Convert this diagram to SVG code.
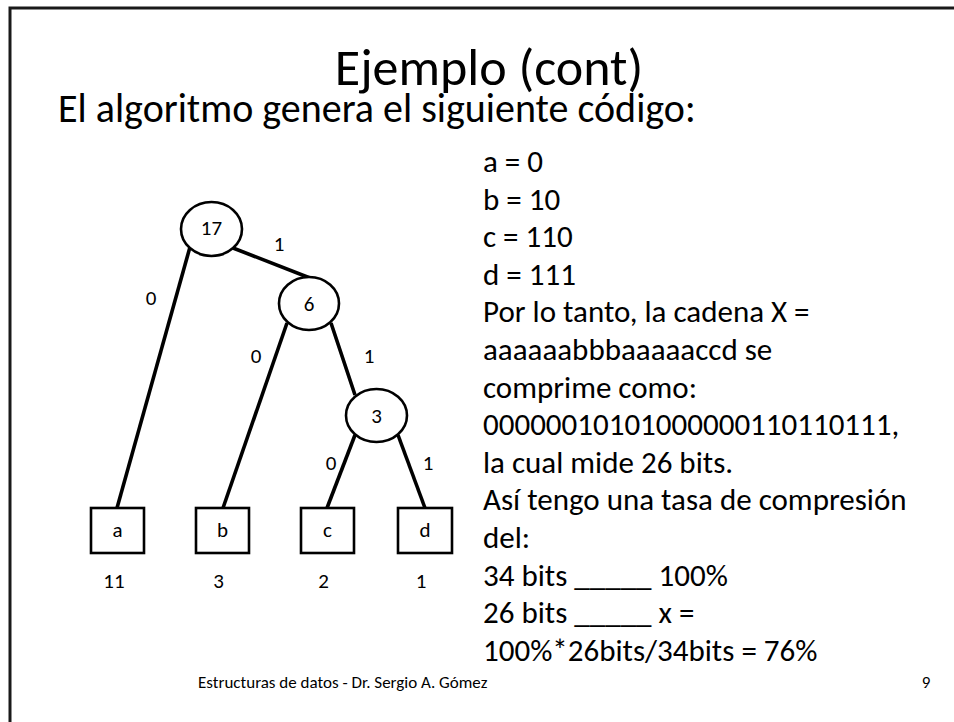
<svg xmlns="http://www.w3.org/2000/svg" width="954" height="722" viewBox="0 0 954 722">
<style>
text{font-family:Carlito,Calibri,"Liberation Sans",sans-serif;fill:#000}
.t{font-size:31px}
.s{font-size:21px;text-anchor:middle;dominant-baseline:central}
.n ellipse,.n rect{fill:#fff;stroke:#000;stroke-width:2.6}
.e line{stroke:#000;stroke-width:3.6}
</style>
<rect x="10" y="8" width="970" height="740" fill="#fff" stroke="#1a1a1a" stroke-width="3"/>
<text x="489" y="85" font-size="52" text-anchor="middle">Ejemplo (cont)</text>
<text x="58" y="122" font-size="40">El algoritmo genera el siguiente código:</text>
<g id="edges" class="e">
<line x1="190" y1="247" x2="117" y2="508"/>
<line x1="233" y1="248" x2="310" y2="278"/>
<line x1="287" y1="323" x2="223" y2="508"/>
<line x1="331" y1="323" x2="355" y2="395"/>
<line x1="355" y1="435" x2="327" y2="508"/>
<line x1="398" y1="435" x2="425" y2="508"/>
</g>
<g id="edge-labels">
<text class="s" x="279" y="244">1</text>
<text class="s" x="151" y="298">0</text>
<text class="s" x="256" y="356">0</text>
<text class="s" x="369" y="356">1</text>
<text class="s" x="331" y="463">0</text>
<text class="s" x="428" y="463">1</text>
</g>
<g id="n17" class="n"><ellipse cx="211.5" cy="229" rx="30.5" ry="27"/><text class="s" x="211.5" y="228">17</text></g>
<g id="n6" class="n"><ellipse cx="309" cy="303.5" rx="30" ry="26.5"/><text class="s" x="309" y="304">6</text></g>
<g id="n3" class="n"><ellipse cx="376.5" cy="415.5" rx="30.5" ry="26.5"/><text class="s" x="376.5" y="416">3</text></g>
<g id="la" class="n"><rect x="91" y="508" width="53" height="45"/><text class="s" x="117.5" y="530">a</text><text class="s" x="114" y="581">11</text></g>
<g id="lb" class="n"><rect x="196" y="508" width="53" height="45"/><text class="s" x="222.5" y="530">b</text><text class="s" x="218.5" y="581">3</text></g>
<g id="lc" class="n"><rect x="301" y="508" width="53" height="45"/><text class="s" x="327.5" y="530">c</text><text class="s" x="323.5" y="581">2</text></g>
<g id="ld" class="n"><rect x="398" y="508" width="54" height="45"/><text class="s" x="425" y="530">d</text><text class="s" x="421" y="581">1</text></g>
<g id="code-text" class="t">
<text x="483" y="172">a = 0</text>
<text x="483" y="209.6">b = 10</text>
<text x="483" y="247.2">c = 110</text>
<text x="483" y="284.8">d = 111</text>
<text x="483" y="322.4">Por lo tanto, la cadena X =</text>
<text x="483" y="360">aaaaaabbbaaaaaccd se</text>
<text x="483" y="397.6">comprime como:</text>
<text x="483" y="435.2">00000010101000000110110111,</text>
<text x="483" y="472.8">la cual mide 26 bits.</text>
<text x="483" y="510.4">Así tengo una tasa de compresión</text>
<text x="483" y="548">del:</text>
<text x="483" y="585.6">34 bits _____ 100%</text>
<text x="483" y="623.2">26 bits _____ x =</text>
<text x="483" y="660.8">100%*26bits/34bits = 76%</text>
</g>
<text x="198" y="688" font-size="17">Estructuras de datos - Dr. Sergio A. Gómez</text>
<text x="926" y="688" font-size="17" text-anchor="middle">9</text>
</svg>
